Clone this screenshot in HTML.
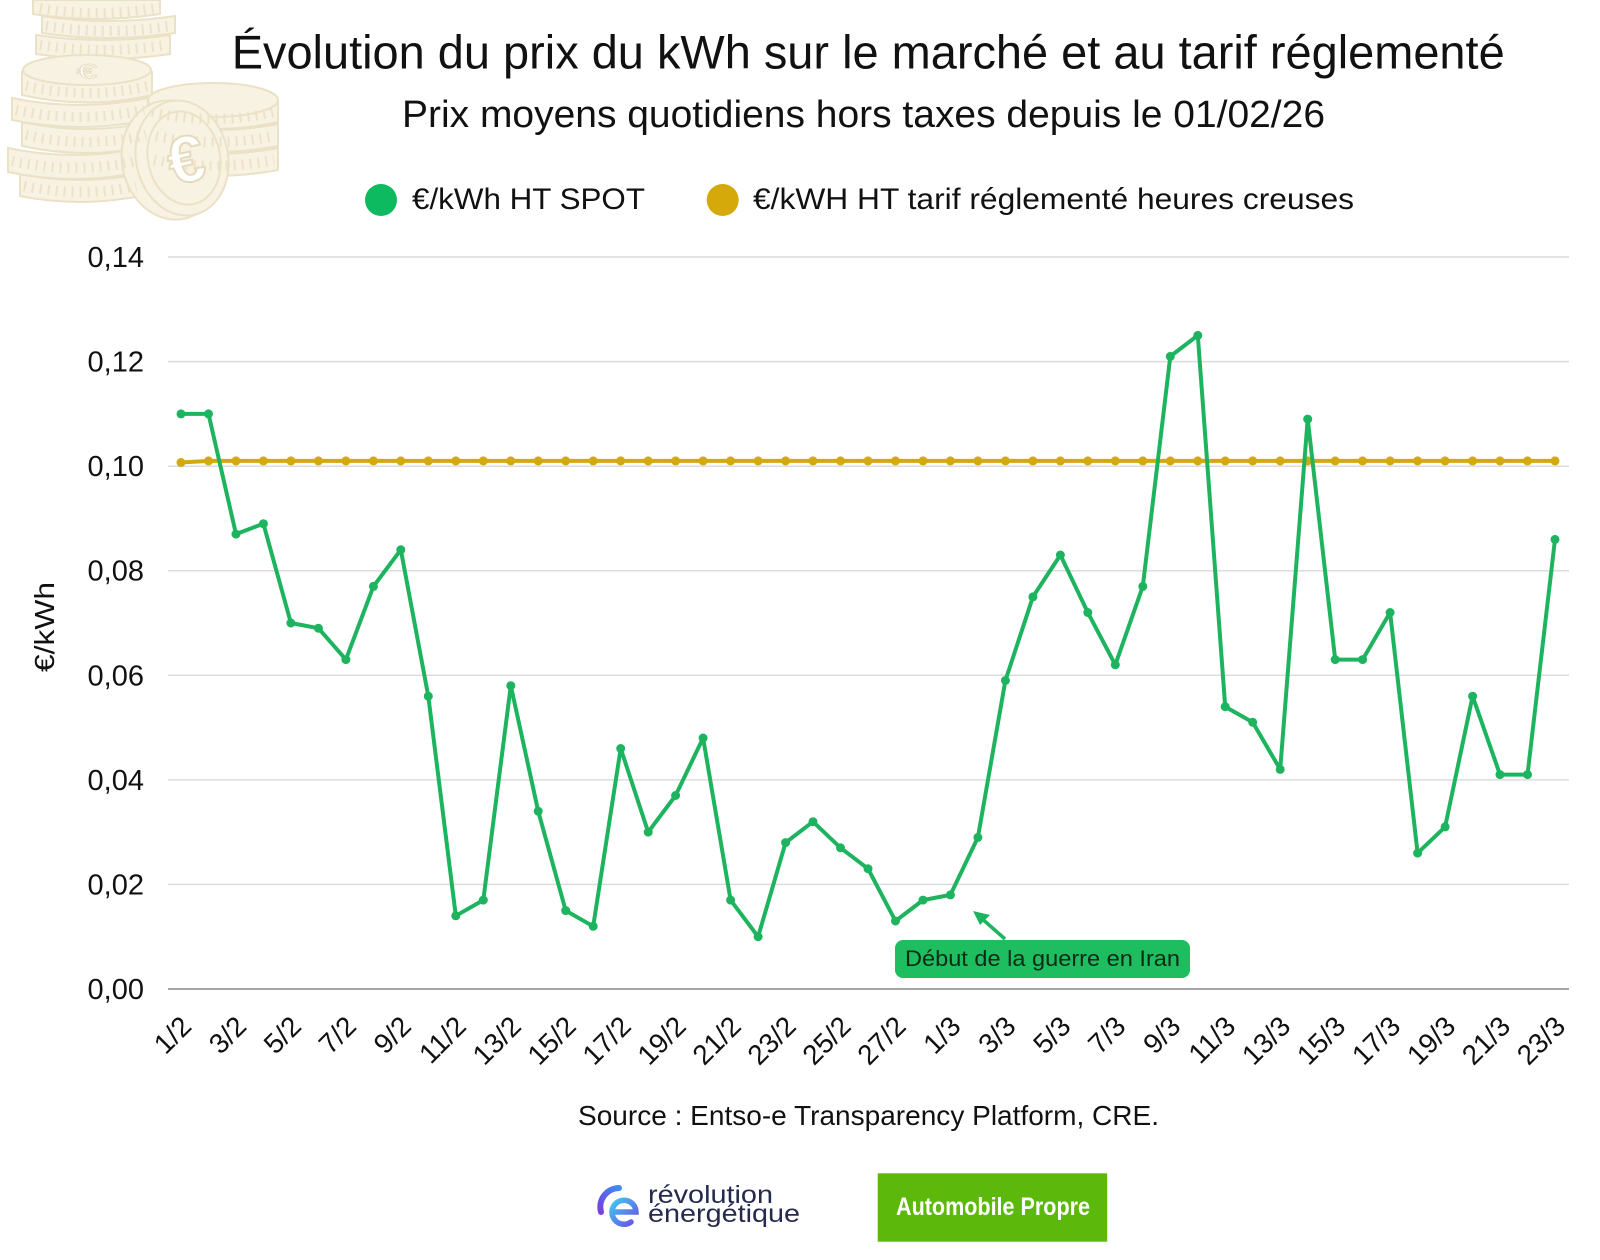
<!DOCTYPE html>
<html><head><meta charset="utf-8"><style>
html,body{margin:0;padding:0;background:#fff;}
svg{display:block;}
text{font-family:"Liberation Sans",sans-serif;}
</style></head><body>
<svg width="1600" height="1260" viewBox="0 0 1600 1260" xmlns="http://www.w3.org/2000/svg">
<defs>
<marker id="gm" markerWidth="12" markerHeight="12" refX="6" refY="6" markerUnits="userSpaceOnUse"><circle cx="6" cy="6" r="4.5" fill="#1eb45f"/></marker>
<marker id="ym" markerWidth="12" markerHeight="12" refX="6" refY="6" markerUnits="userSpaceOnUse"><circle cx="6" cy="6" r="4.5" fill="#d4a812"/></marker>
<linearGradient id="lg1" x1="0" y1="1" x2="1" y2="0"><stop offset="0" stop-color="#7a3fe0"/><stop offset="1" stop-color="#3f8cf5"/></linearGradient>
<linearGradient id="lg2" x1="0" y1="0" x2="1" y2="1"><stop offset="0" stop-color="#3fc8f0"/><stop offset="1" stop-color="#6b4fe6"/></linearGradient>
</defs>
<rect width="1600" height="1260" fill="#fff"/>

<!-- coins -->
<g fill="#f8f2e3" stroke="#ebe1c6" stroke-width="2">
<path d="M33 0 L33 14 Q96 24 160 14 L160 0 Z"/>
<path d="M42 16 L42 33 Q108 43 175 33 L175 16 Q108 26 42 16 Z"/>
<path d="M36 35 L36 54 Q103 64 170 54 L170 35 Q103 45 36 35 Z"/>
<path d="M20 174 L20 196 Q80 208 140 196 L140 174 Q80 186 20 174Z"/>
<path d="M8 148 L8 172 Q74 186 140 172 L140 148 Q74 162 8 148Z"/>
<path d="M22 122 L22 146 Q86 160 150 146 L150 122 Q86 136 22 122Z"/>
<path d="M12 98 L12 120 Q80 134 148 120 L148 98 Q80 112 12 98Z"/>
<path d="M22 72 L22 95 Q87 110 152 95 L152 72 Z"/>
<ellipse cx="87" cy="70" rx="64" ry="15"/>
<path d="M150 148 L150 170 Q214 182 278 170 L278 148 Q214 160 150 148Z"/>
<path d="M152 124 L152 146 Q215 158 278 146 L278 124 Q215 136 152 124Z"/>
<path d="M148 100 L148 122 Q213 136 278 122 L278 100 Z"/>
<ellipse cx="213" cy="100" rx="65" ry="17"/>
<ellipse cx="172" cy="160" rx="50" ry="60" transform="rotate(-12 172 160)"/>
<ellipse cx="182" cy="158" rx="46" ry="58" transform="rotate(-12 182 158)"/>
<ellipse cx="184" cy="158" rx="36" ry="47" transform="rotate(-12 184 158)"/>
</g>
<g fill="none" stroke="#ece2c8" stroke-width="10" stroke-dasharray="2 6">
<path d="M40 8 Q96 18 155 8"/><path d="M46 26 Q108 36 170 26"/><path d="M40 45 Q103 55 165 45"/>
<path d="M26 86 Q87 100 148 86"/><path d="M16 110 Q80 124 144 110"/><path d="M26 135 Q86 149 146 135"/>
<path d="M12 161 Q74 175 136 161"/><path d="M24 186 Q80 198 136 186"/>
<path d="M152 112 Q213 126 274 112"/><path d="M156 136 Q215 148 274 136"/><path d="M154 160 Q214 172 274 160"/>
</g>
<text x="87" y="84" font-size="36" fill="#fff" stroke="#e8dcc0" stroke-width="1.5" text-anchor="middle" transform="translate(0 28) scale(1 0.6)">€</text>
<text x="186" y="182" font-size="66" font-weight="bold" fill="#fff" stroke="#e6dabd" stroke-width="2" text-anchor="middle" transform="rotate(-12 186 160)">€</text>

<!-- titles -->
<text x="231.7" y="68.5" font-size="47" fill="#111" textLength="1273" lengthAdjust="spacingAndGlyphs">Évolution du prix du kWh sur le marché et au tarif réglementé</text>
<text x="402" y="127" font-size="38" fill="#111" textLength="923" lengthAdjust="spacingAndGlyphs">Prix moyens quotidiens hors taxes depuis le 01/02/26</text>

<!-- legend -->
<circle cx="381" cy="200" r="16" fill="#0dba5f"/>
<text x="412" y="209" font-size="30" fill="#111" textLength="233" lengthAdjust="spacingAndGlyphs">€/kWh HT SPOT</text>
<circle cx="722.7" cy="200" r="16" fill="#d6a90a"/>
<text x="753" y="209" font-size="30" fill="#111" textLength="601" lengthAdjust="spacingAndGlyphs">€/kWH HT tarif réglementé heures creuses</text>

<!-- gridlines -->
<g stroke="#dcdcdc" stroke-width="1.5">
<line x1="168" y1="257" x2="1569" y2="257"/>
<line x1="168" y1="361.6" x2="1569" y2="361.6"/>
<line x1="168" y1="466.2" x2="1569" y2="466.2"/>
<line x1="168" y1="570.7" x2="1569" y2="570.7"/>
<line x1="168" y1="675.3" x2="1569" y2="675.3"/>
<line x1="168" y1="779.9" x2="1569" y2="779.9"/>
<line x1="168" y1="884.4" x2="1569" y2="884.4"/>
</g>
<line x1="168" y1="989" x2="1569" y2="989" stroke="#a6a6a6" stroke-width="2"/>

<!-- y labels -->
<g font-size="29" fill="#111" text-anchor="end">
<text x="144" y="267">0,14</text>
<text x="144" y="371.6">0,12</text>
<text x="144" y="476.2">0,10</text>
<text x="144" y="580.7">0,08</text>
<text x="144" y="685.3">0,06</text>
<text x="144" y="789.9">0,04</text>
<text x="144" y="894.4">0,02</text>
<text x="144" y="999">0,00</text>
</g>
<text x="0" y="0" font-size="28" fill="#111" text-anchor="middle" textLength="90" lengthAdjust="spacingAndGlyphs" transform="translate(54 627) rotate(-90)">€/kWh</text>

<!-- x labels -->
<g font-size="28" fill="#111" text-anchor="end">
<text transform="translate(193 1028) rotate(-45)">1/2</text>
<text transform="translate(248 1028) rotate(-45)">3/2</text>
<text transform="translate(302.9 1028) rotate(-45)">5/2</text>
<text transform="translate(357.9 1028) rotate(-45)">7/2</text>
<text transform="translate(412.8 1028) rotate(-45)">9/2</text>
<text transform="translate(467.8 1028) rotate(-45)">11/2</text>
<text transform="translate(522.8 1028) rotate(-45)">13/2</text>
<text transform="translate(577.7 1028) rotate(-45)">15/2</text>
<text transform="translate(632.7 1028) rotate(-45)">17/2</text>
<text transform="translate(687.6 1028) rotate(-45)">19/2</text>
<text transform="translate(742.6 1028) rotate(-45)">21/2</text>
<text transform="translate(797.6 1028) rotate(-45)">23/2</text>
<text transform="translate(852.5 1028) rotate(-45)">25/2</text>
<text transform="translate(907.5 1028) rotate(-45)">27/2</text>
<text transform="translate(962.4 1028) rotate(-45)">1/3</text>
<text transform="translate(1017.4 1028) rotate(-45)">3/3</text>
<text transform="translate(1072.4 1028) rotate(-45)">5/3</text>
<text transform="translate(1127.3 1028) rotate(-45)">7/3</text>
<text transform="translate(1182.3 1028) rotate(-45)">9/3</text>
<text transform="translate(1237.2 1028) rotate(-45)">11/3</text>
<text transform="translate(1292.2 1028) rotate(-45)">13/3</text>
<text transform="translate(1347.2 1028) rotate(-45)">15/3</text>
<text transform="translate(1402.1 1028) rotate(-45)">17/3</text>
<text transform="translate(1457.1 1028) rotate(-45)">19/3</text>
<text transform="translate(1512 1028) rotate(-45)">21/3</text>
<text transform="translate(1567 1028) rotate(-45)">23/3</text>
</g>

<!-- yellow series -->
<polyline fill="none" stroke="#d4a812" stroke-width="4" stroke-linejoin="round" marker-start="url(#ym)" marker-mid="url(#ym)" marker-end="url(#ym)"
points="181,462.5 208.5,460.9 236,460.9 263.4,460.9 290.9,460.9 318.4,460.9 345.9,460.9 373.4,460.9 400.8,460.9 428.3,460.9 455.8,460.9 483.3,460.9 510.8,460.9 538.2,460.9 565.7,460.9 593.2,460.9 620.7,460.9 648.2,460.9 675.6,460.9 703.1,460.9 730.6,460.9 758.1,460.9 785.6,460.9 813,460.9 840.5,460.9 868,460.9 895.5,460.9 923,460.9 950.4,460.9 977.9,460.9 1005.4,460.9 1032.9,460.9 1060.4,460.9 1087.8,460.9 1115.3,460.9 1142.8,460.9 1170.3,460.9 1197.8,460.9 1225.2,460.9 1252.7,460.9 1280.2,460.9 1307.7,460.9 1335.2,460.9 1362.6,460.9 1390.1,460.9 1417.6,460.9 1445.1,460.9 1472.6,460.9 1500,460.9 1527.5,460.9 1555,460.9"/>

<!-- green series -->
<polyline fill="none" stroke="#1eb45f" stroke-width="4" stroke-linejoin="round" marker-start="url(#gm)" marker-mid="url(#gm)" marker-end="url(#gm)"
points="181,413.9 208.5,413.9 236,534.1 263.4,523.7 290.9,623 318.4,628.2 345.9,659.6 373.4,586.4 400.8,549.8 428.3,696.2 455.8,915.8 483.3,900.1 510.8,685.7 538.2,811.2 565.7,910.6 593.2,926.3 620.7,748.5 648.2,832.1 675.6,795.5 703.1,738 730.6,900.1 758.1,936.7 785.6,842.6 813,821.7 840.5,847.8 868,868.7 895.5,921 923,900.1 950.4,894.9 977.9,837.4 1005.4,680.5 1032.9,596.9 1060.4,555 1087.8,612.5 1115.3,664.8 1142.8,586.4 1170.3,356.4 1197.8,335.4 1225.2,706.7 1252.7,722.3 1280.2,769.4 1307.7,419.1 1335.2,659.6 1362.6,659.6 1390.1,612.5 1417.6,853.1 1445.1,826.9 1472.6,696.2 1500,774.6 1527.5,774.6 1555,539.4"/>

<!-- annotation -->
<line x1="1005" y1="939" x2="980" y2="917" stroke="#1eb45f" stroke-width="3.5"/>
<polygon points="973,911 990,915 980,925" fill="#1eb45f"/>
<rect x="895" y="940" width="295" height="38" rx="8" fill="#1dbd60"/>
<text x="905" y="966" font-size="22" fill="#0e2a17" textLength="275" lengthAdjust="spacingAndGlyphs">Début de la guerre en Iran</text>

<!-- source -->
<text x="578" y="1125" font-size="28" fill="#111" textLength="581" lengthAdjust="spacingAndGlyphs">Source : Entso-e Transparency Platform, CRE.</text>

<!-- révolution énergétique logo -->
<path d="M601 1212 A19 19 0 0 1 619 1188" fill="none" stroke="url(#lg1)" stroke-width="6" stroke-linecap="round"/>
<path d="M612 1212 L636 1212 A12 12 0 1 0 631 1222" fill="none" stroke="url(#lg2)" stroke-width="5.5" stroke-linecap="round"/>
<text x="648" y="1203" font-size="25" fill="#262a4c" textLength="125" lengthAdjust="spacingAndGlyphs">révolution</text>
<text x="648" y="1222" font-size="25" fill="#262a4c" textLength="152" lengthAdjust="spacingAndGlyphs">énergétique</text>

<!-- Automobile Propre logo -->
<rect x="877.7" y="1173.3" width="229.5" height="68.4" fill="#5cb90c"/>
<text x="896" y="1215" font-size="25" font-weight="bold" fill="#fff" textLength="194" lengthAdjust="spacingAndGlyphs">Automobile Propre</text>
</svg>
</body></html>
